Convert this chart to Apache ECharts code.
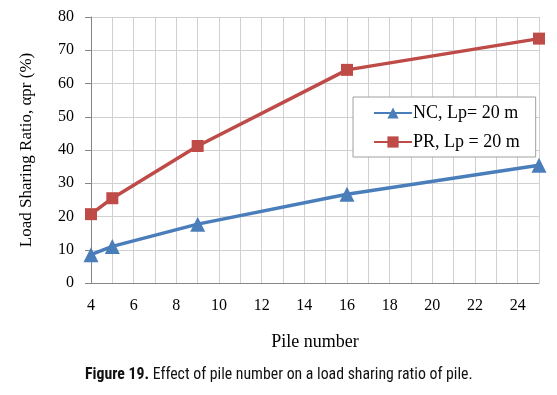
<!DOCTYPE html>
<html>
<head>
<meta charset="utf-8">
<script src="https://cdn.jsdelivr.net/npm/echarts@6/dist/echarts.min.js"></script>
<style>html,body{margin:0;padding:0;background:#fff}#c{width:557px;height:395px}</style>
</head>
<body>
<div id="c"></div>
<script>
const pileNumbers = [4, 5, 9, 16, 25];
const ncValues = [8.5, 11, 17.7, 26.7, 35.4];
const prValues = [20.7, 25.5, 41.2, 64.1, 73.5];
const seriesNames = ['NC, Lp= 20 m', 'PR, Lp = 20 m'];
const xTitle = 'Pile number';
const yTitle = 'Load Sharing Ratio, αpr (%)';

const serif = '"Liberation Serif", "Times New Roman", serif';
const narrow = '"Liberation Sans Narrow", "Roboto Condensed", "Arial Narrow", sans-serif';
const chart = echarts.init(document.getElementById('c'));
chart.setOption({
  animation: false,
  backgroundColor: '#fff',
  grid: {left: 91, right: 18, top: 17, bottom: 112, containLabel: false},
  graphic: [{
    type: 'text', left: 85, top: 367,
    style: {
      text: '{b|Figure 19.} Effect of pile number on a load sharing ratio of pile.',
      rich: {
        b: {fontFamily: narrow, fontWeight: 'bold', fontSize: 15.8, fill: '#111'}
      },
      fontFamily: narrow, fontSize: 15.8, fill: '#111'
    }
  }],
  legend: {
    orient: 'vertical', left: 353, top: 97,
    padding: [7, 16, 6, 20], itemGap: 11,
    backgroundColor: '#fff', borderColor: '#a0a0a0', borderWidth: 1,
    itemWidth: 38, itemHeight: 14,
    textStyle: {fontFamily: serif, fontSize: 18, color: '#000', padding: [0, 0, 0, -4]},
    data: seriesNames
  },
  xAxis: {
    type: 'value', min: 4, max: 25, interval: 1,
    name: xTitle, nameLocation: 'middle', nameGap: 50,
    nameTextStyle: {fontFamily: serif, fontSize: 18, color: '#000'},
    axisLine: {show: true, lineStyle: {color: '#868686', width: 1}},
    axisTick: {show: false},
    axisLabel: {fontFamily: serif, fontSize: 16, color: '#000', margin: 15,
      formatter: v => (v % 2 === 0 ? String(v) : '')},
    splitLine: {show: true, lineStyle: {color: '#d0d0d0', width: 1}}
  },
  yAxis: {
    type: 'value', min: 0, max: 80, interval: 10,
    name: yTitle, nameLocation: 'middle', nameGap: 56, nameRotate: 90,
    nameTextStyle: {fontFamily: serif, fontSize: 17, color: '#000'},
    axisLine: {show: true, lineStyle: {color: '#868686', width: 1}},
    axisTick: {show: true, inside: false, length: 6, lineStyle: {color: '#868686'}},
    axisLabel: {fontFamily: serif, fontSize: 16, color: '#000', margin: 17},
    splitLine: {show: true, lineStyle: {color: '#d0d0d0', width: 1}}
  },
  series: [
    {
      name: seriesNames[0], type: 'line',
      data: pileNumbers.map((x, i) => [x, ncValues[i]]),
      symbol: 'triangle', symbolSize: 15,
      lineStyle: {color: '#4a7ebb', width: 3.5},
      itemStyle: {color: '#4a7ebb'}
    },
    {
      name: seriesNames[1], type: 'line',
      data: pileNumbers.map((x, i) => [x, prValues[i]]),
      symbol: 'rect', symbolSize: 12,
      lineStyle: {color: '#be4b48', width: 3.5},
      itemStyle: {color: '#be4b48'}
    }
  ]
});
</script>
</body>
</html>
